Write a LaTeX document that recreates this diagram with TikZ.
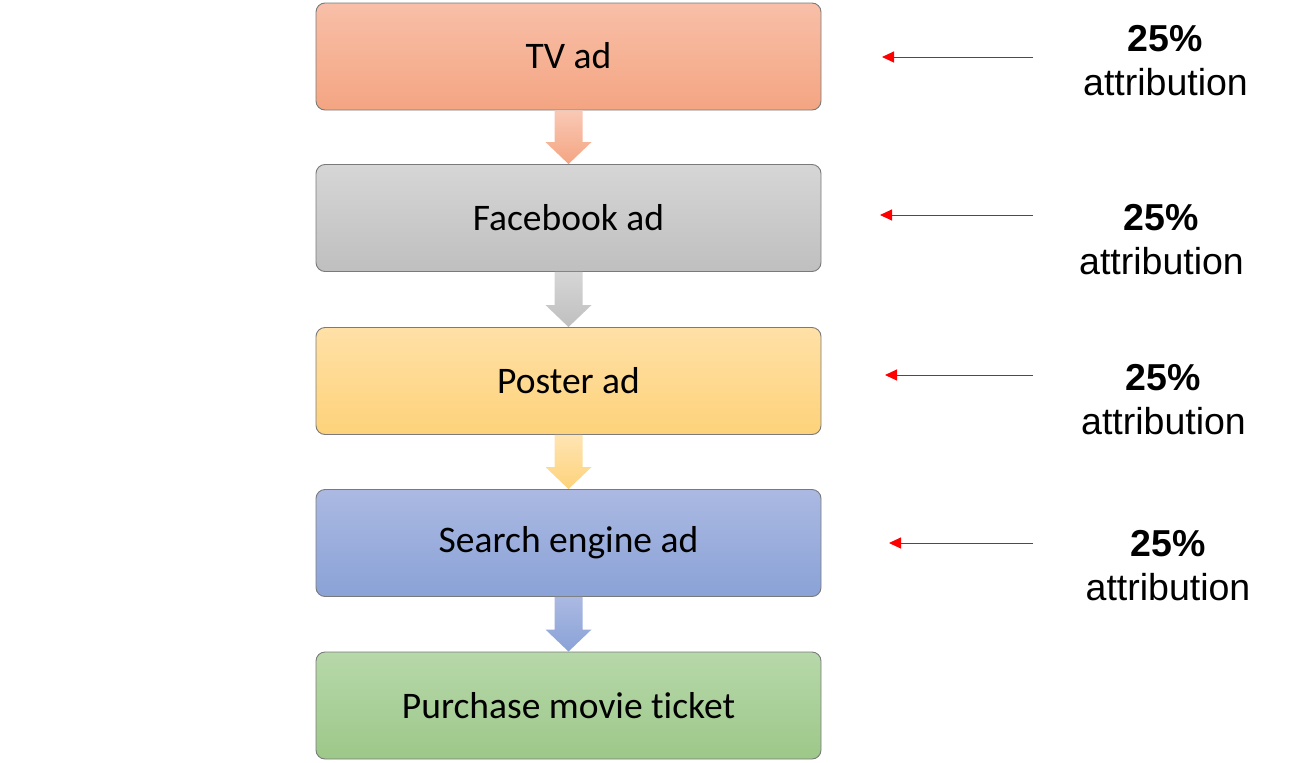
\documentclass[tikz,border=0pt]{standalone}
\usepackage{fontspec}
\newfontfamily\boxfont[Ligatures=NoCommon]{Carlito}
\newfontfamily\labfont{Liberation Sans}
\usetikzlibrary{arrows.meta,calc,shadings}
\definecolor{tvT}{HTML}{F8BFA8}\definecolor{tvB}{HTML}{F4A582}
\definecolor{fbT}{HTML}{D6D6D6}\definecolor{fbB}{HTML}{BFBFBF}
\definecolor{poT}{HTML}{FFE0A6}\definecolor{poB}{HTML}{FDD27A}
\definecolor{seT}{HTML}{ABB9E2}\definecolor{seB}{HTML}{8AA2D7}
\definecolor{puT}{HTML}{B7D8AA}\definecolor{puB}{HTML}{9DC889}
\definecolor{edge}{HTML}{7A7A7A}
\definecolor{redarr}{HTML}{FF0000}
\tikzset{
  stagebox/.style={draw=edge, line width=0.9pt, rounded corners=9pt,
    minimum width=505pt, minimum height=107pt, inner sep=0pt,
    font=\boxfont\fontsize{37.5}{45}\selectfont, text=black},
  attrlabel/.style={align=center, inner sep=0pt,
    font=\labfont\fontsize{37.5}{44}\selectfont, text=black},
  redline/.style={draw=redarr, line width=1pt, -{Triangle[length=12pt,width=11pt]}},
}
\newcommand{\blockarrow}[4]{%
  \shade[top color=#3, bottom color=#4]
    ($(#1.south)+(-14,0)$) -- ($(#1.south)+(14,0)$) --
    ($(#2.north)+(14,-22)$) -- ($(#2.north)+(23,-22)$) --
    (#2.north) -- ($(#2.north)+(-23,-22)$) --
    ($(#2.north)+(-14,-22)$) -- cycle;}
\begin{document}
\begin{tikzpicture}[x=1pt,y=-1pt]
\useasboundingbox (0,0) rectangle (1299,763);
\node[stagebox, top color=tvT, bottom color=tvB] (tv) at (568.5,56.5) {\raisebox{1.5pt}{TV ad}};
\node[stagebox, top color=fbT, bottom color=fbB] (fb) at (568.5,218) {Facebook ad};
\node[stagebox, top color=poT, bottom color=poB] (po) at (568.5,381) {Poster ad};
\node[stagebox, top color=seT, bottom color=seB] (se) at (568.5,543) {\raisebox{-2pt}{Search engine ad}};
\node[stagebox, top color=puT, bottom color=puB] (pu) at (568.5,705.5) {Purchase movie ticket};

\blockarrow{tv}{fb}{tvT!85!white}{tvB}
\blockarrow{fb}{po}{fbT}{fbB}
\blockarrow{po}{se}{poT!85!white}{poB}
\blockarrow{se}{pu}{seT}{seB}

\node[attrlabel] (l1) at (1165.5,61) {\textbf{25\%}\\attribution};
\node[attrlabel] (l2) at (1161.5,240) {\textbf{25\%}\\attribution};
\node[attrlabel] (l3) at (1163.5,400) {\textbf{25\%}\\attribution};
\node[attrlabel] (l4) at (1168,566) {\textbf{25\%}\\attribution};

\coordinate (s1) at (1033,57);  \coordinate (t1) at (882,57);
\coordinate (s2) at (1033,215); \coordinate (t2) at (880,215);
\coordinate (s3) at (1033,375); \coordinate (t3) at (885,375);
\coordinate (s4) at (1033,543); \coordinate (t4) at (889,543);
\draw[redline] (s1) -- (t1);
\draw[redline] (s2) -- (t2);
\draw[redline] (s3) -- (t3);
\draw[redline] (s4) -- (t4);
\end{tikzpicture}
\end{document}
